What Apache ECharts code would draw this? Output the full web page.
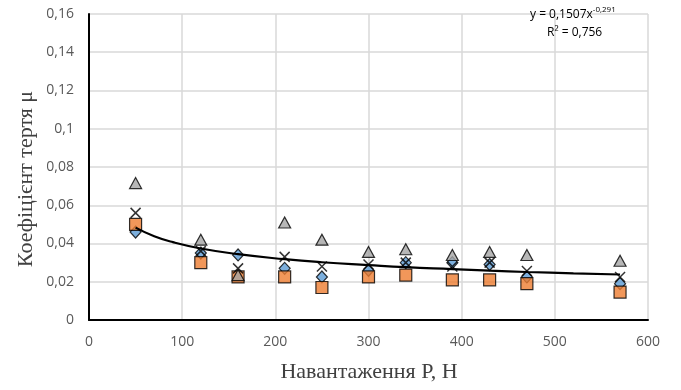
<!DOCTYPE html>
<html><head><meta charset="utf-8">
<script src="https://cdn.jsdelivr.net/npm/echarts@6/dist/echarts.min.js"></script>
<style>html,body{margin:0;padding:0;background:#fff}#c{width:681px;height:390px}</style>
</head><body><div id="c"></div>
<script>
const loads = [50, 120, 160, 210, 250, 300, 340, 390, 430, 470, 570];
const seriesBlue   = [0.046, 0.035, 0.034, 0.027, 0.0225, 0.026, 0.030, 0.030, 0.029, 0.0225, 0.019];
const seriesOrange = [0.050, 0.030, 0.0225, 0.0225, 0.017, 0.0225, 0.0235, 0.021, 0.021, 0.019, 0.0146];
const seriesGray   = [0.0716, 0.042, 0.0235, 0.051, 0.042, 0.0356, 0.037, 0.034, 0.0356, 0.034, 0.031];
const seriesCross  = [0.056, 0.036, 0.027, 0.033, 0.028, 0.029, 0.030, 0.028, 0.030, 0.0256, 0.0225];
const trendX = [50, 70, 90, 120, 160, 210, 250, 300, 340, 390, 430, 470, 520, 570];
const trendY = [0.0483, 0.0438, 0.0407, 0.0374, 0.0344, 0.0318, 0.0302, 0.0287, 0.0276, 0.0266, 0.0258, 0.0251, 0.0244, 0.0238];
const xTicks = [0, 100, 200, 300, 400, 500, 600];
const yTicks = [0, 0.02, 0.04, 0.06, 0.08, 0.1, 0.12, 0.14, 0.16];
const xTitle = 'Навантаження Р, Н';
const yTitle = 'Коефіцієнт тертя μ';

const zip = (xs, ys) => xs.map((x, i) => [x, ys[i]]);
const fmtY = v => String(+v.toFixed(2)).replace('.', ',');

const chart = echarts.init(document.getElementById('c'), null, {renderer: 'canvas'});
const mk = (name, data, symbol, size, color, z) => ({
  name, type: 'scatter', data, symbol, symbolSize: size, z,
  itemStyle: {color, borderColor: '#000', borderWidth: 1.2}
});
const titleStyle = {fontFamily: 'Liberation Serif', fontSize: 22, fill: '#404040'};
chart.setOption({
  animation: false,
  grid: {left: 89, right: 33, top: 14, bottom: 70},
  xAxis: {
    type: 'value', min: xTicks[0], max: xTicks[xTicks.length - 1], interval: 100,
    axisLine: {show: true, onZero: false, lineStyle: {color: '#000', width: 2}},
    axisTick: {show: false},
    axisLabel: {margin: 15, fontFamily: 'Open Sans', fontSize: 14, color: '#595959'},
    splitLine: {show: true, lineStyle: {color: '#d9d9d9', width: 1.5}}
  },
  yAxis: {
    type: 'value', min: yTicks[0], max: yTicks[yTicks.length - 1], interval: 0.02,
    axisLine: {show: true, lineStyle: {color: '#000', width: 2}},
    axisTick: {show: false},
    axisLabel: {margin: 15, fontFamily: 'Open Sans', fontSize: 14, color: '#595959', formatter: fmtY},
    splitLine: {show: true, lineStyle: {color: '#d9d9d9', width: 1.5}}
  },
  series: [
    mk('Серія 1', zip(loads, seriesBlue), 'diamond', [11, 12], '#5B9BD5', 2),
    mk('Серія 2', zip(loads, seriesOrange), 'rect', 12, '#ED7D31', 3),
    mk('Серія 3', zip(loads, seriesGray), 'triangle', [12, 11], '#A5A5A5', 4),
    {name: 'Серія 4', type: 'scatter', data: zip(loads, seriesCross), z: 5,
     symbol: 'path://M0,0L10,10M10,0L0,10', symbolSize: 10,
     itemStyle: {color: 'none', borderColor: '#000', borderWidth: 1.5}},
    {name: 'Тренд', type: 'line', data: zip(trendX, trendY), smooth: true, symbol: 'none', z: 6,
     lineStyle: {color: '#000', width: 2.2}}
  ],
  graphic: [
    {type: 'text', x: 369, y: 372, z: 10,
     style: Object.assign({text: xTitle, align: 'center', verticalAlign: 'middle'}, titleStyle)},
    {type: 'text', x: 26, y: 179, rotation: Math.PI / 2, z: 10,
     style: Object.assign({text: yTitle, align: 'center', verticalAlign: 'middle'}, titleStyle)},
    {type: 'text', left: 530, top: 6, z: 10,
     style: {
      text: '{a|y = 0,1507x}{s|-0,291}\n{b|R² = 0,756}',
      rich: {
        a: {fontFamily: 'Open Sans', fontSize: 12, color: '#404040', lineHeight: 18},
        s: {fontFamily: 'Open Sans', fontSize: 8, color: '#404040', verticalAlign: 'top', padding: [0, 0, 6, 0], lineHeight: 18},
        b: {fontFamily: 'Open Sans', fontSize: 12, color: '#404040', lineHeight: 18, padding: [0, 0, 0, 17]}
      }
    }}
  ]
});
</script></body></html>
